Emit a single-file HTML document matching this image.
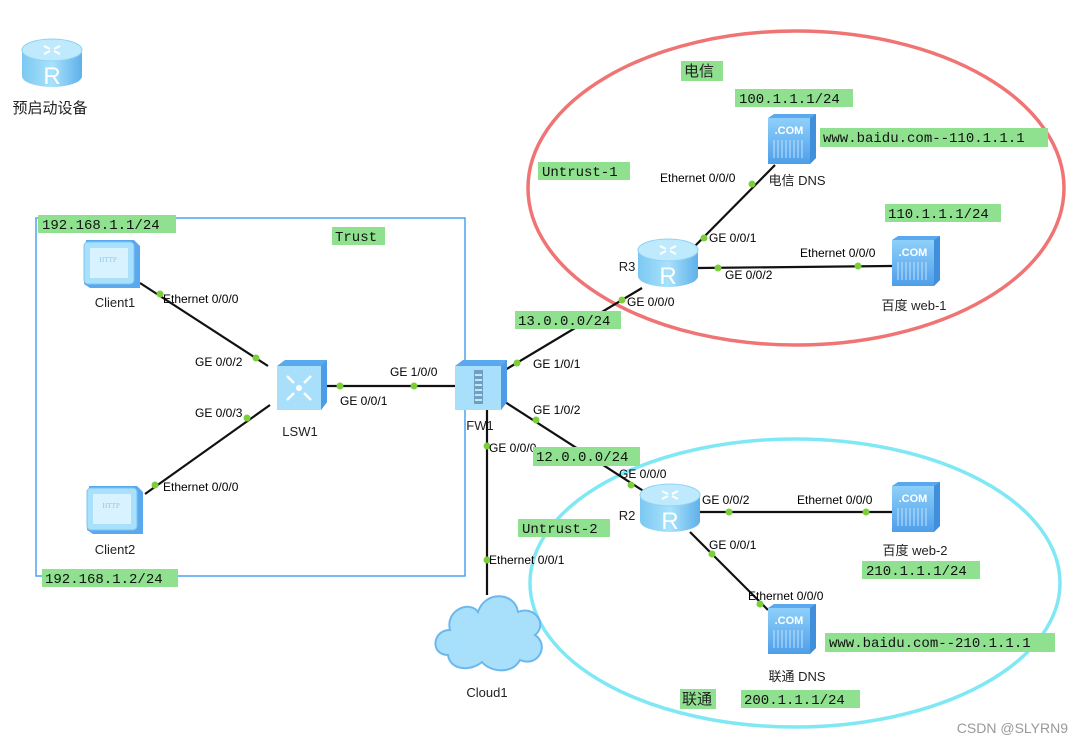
<!DOCTYPE html>
<html><head><meta charset="utf-8"><style>
html,body{margin:0;padding:0;background:#fff;}
svg{display:block;}
.p{font-family:"Liberation Sans","Noto Sans CJK SC",sans-serif;font-size:12px;fill:#000;}
.n{font-family:"Liberation Sans","Noto Sans CJK SC",sans-serif;font-size:13px;fill:#222;}
.m{font-family:"Liberation Mono","Noto Sans CJK SC",monospace;font-size:14px;fill:#111;}
.g{fill:#8fe08f;}
.d{fill:#7ccf3a;}
</style></head><body>
<svg width="1073" height="744" viewBox="0 0 1073 744" xmlns="http://www.w3.org/2000/svg">
<defs>
<linearGradient id="rg" x1="0" y1="0" x2="1" y2="0">
<stop offset="0" stop-color="#7cc8f2"/><stop offset="0.5" stop-color="#a8e2fb"/><stop offset="1" stop-color="#5fb0ea"/></linearGradient>
<linearGradient id="sg" x1="0" y1="0" x2="0" y2="1">
<stop offset="0" stop-color="#8fd0fa"/><stop offset="1" stop-color="#4e9ee8"/></linearGradient>
<g id="router">
<path d="M-30,-12 L-30,14 A30,11 0 0 0 30,14 L30,-12 Z" fill="url(#rg)"/>
<ellipse cx="0" cy="-12" rx="30" ry="11" fill="#bfeafd" stroke="#8fd2f5"/>
<path d="M-8,-16 l6,3 M8,-16 l-6,3 M-8,-8 l6,-3 M8,-8 l-6,-3" stroke="#fff" stroke-width="2"/>
<text x="0" y="22" text-anchor="middle" font-family="Liberation Sans" font-size="24" fill="#fff">R</text>
</g>
<g id="server">
<path d="M0,4 L6,0 L48,0 L48,44 L42,50 L0,50 Z" fill="#5aa8ee"/>
<rect x="0" y="4" width="42" height="46" fill="url(#sg)"/>
<path d="M42,4 L48,0 L48,44 L42,50 Z" fill="#3f8fdc"/>
<text x="21" y="20" text-anchor="middle" font-family="Liberation Sans" font-weight="bold" font-size="11" fill="#fff">.COM</text>
<path d="M6,26 v18 M10,26 v18 M14,26 v18 M18,26 v18 M22,26 v18 M26,26 v18 M30,26 v18 M34,26 v18" stroke="#bfe2ff" stroke-width="1"/>
</g>
<g id="client">
<path d="M2,0 L50,0 L56,6 L56,48 L6,48 L0,44 Z" fill="#5aa8ee"/>
<rect x="0" y="2" width="50" height="42" rx="4" fill="#a9e0fb" stroke="#7cc4f2"/>
<rect x="6" y="8" width="38" height="30" fill="#d8f3ff"/>
<text x="24" y="22" text-anchor="middle" font-family="Liberation Serif" font-size="7" fill="#8cc8ef">HTTP</text>
</g>
</defs>

<rect x="36" y="218" width="429" height="358" fill="none" stroke="#4aa3f0" stroke-width="1.5"/>
<ellipse cx="796" cy="188" rx="268" ry="157" fill="none" stroke="#f07474" stroke-width="3.5"/>
<ellipse cx="795" cy="583" rx="265" ry="144" fill="none" stroke="#7fe8f4" stroke-width="3.5"/>

<g stroke="#111" stroke-width="2.2">
<line x1="140" y1="283" x2="268" y2="366"/>
<line x1="145" y1="494" x2="270" y2="405"/>
<line x1="320" y1="386" x2="455" y2="386"/>
<line x1="505" y1="370" x2="642" y2="288"/>
<line x1="505" y1="402" x2="645" y2="492"/>
<line x1="487" y1="405" x2="487" y2="595"/>
<line x1="693" y1="248" x2="775" y2="165"/>
<line x1="698" y1="268" x2="892" y2="266"/>
<line x1="700" y1="512" x2="892" y2="512"/>
<line x1="690" y1="532" x2="768" y2="610"/>
</g>
<g class="d">
<circle cx="160" cy="294" r="3.5"/><circle cx="256" cy="358" r="3.5"/>
<circle cx="155" cy="485" r="3.5"/><circle cx="247" cy="418" r="3.5"/>
<circle cx="340" cy="386" r="3.5"/><circle cx="414" cy="386" r="3.5"/>
<circle cx="517" cy="363" r="3.5"/><circle cx="622" cy="300" r="3.5"/>
<circle cx="536" cy="420" r="3.5"/><circle cx="631" cy="485" r="3.5"/>
<circle cx="487" cy="446" r="3.5"/><circle cx="487" cy="560" r="3.5"/>
<circle cx="704" cy="238" r="3.5"/><circle cx="752" cy="184" r="3.5"/>
<circle cx="718" cy="268" r="3.5"/><circle cx="858" cy="266" r="3.5"/>
<circle cx="729" cy="512" r="3.5"/><circle cx="866" cy="512" r="3.5"/>
<circle cx="712" cy="554" r="3.5"/><circle cx="760" cy="604" r="3.5"/>
</g>

<use href="#router" x="52" y="62"/>
<text x="50" y="113" text-anchor="middle" class="n" style="font-size:15px">预启动设备</text>
<use href="#client" x="84" y="240"/>
<text x="115" y="307" text-anchor="middle" class="n">Client1</text>
<use href="#client" x="87" y="486"/>
<text x="115" y="554" text-anchor="middle" class="n">Client2</text>
<g transform="translate(277,360)">
<path d="M0,6 L8,0 L50,0 L50,42 L44,50 L0,50 Z" fill="#5aa8ee"/>
<rect x="0" y="6" width="44" height="44" fill="#a8e0fb"/>
<path d="M44,6 L50,0 L50,42 L44,50 Z" fill="#4e9be6"/>
<circle cx="22" cy="28" r="3" fill="#fff"/>
<path d="M10,16 l7,7 M34,16 l-7,7 M10,40 l7,-7 M34,40 l-7,-7" stroke="#fff" stroke-width="2.5"/>
</g>
<text x="300" y="436" text-anchor="middle" class="n">LSW1</text>
<g transform="translate(455,360)">
<path d="M0,6 L8,0 L52,0 L52,42 L46,50 L0,50 Z" fill="#5aa8ee"/>
<rect x="0" y="6" width="46" height="44" fill="#a8e0fb"/>
<path d="M46,6 L52,0 L52,42 L46,50 Z" fill="#4e9be6"/>
<rect x="19" y="10" width="9" height="34" fill="#6f9fc4"/>
<path d="M20,15 h7 M20,20 h7 M20,25 h7 M20,30 h7 M20,35 h7 M20,40 h7" stroke="#dff" stroke-width="1.5"/>
</g>
<text x="480" y="430" text-anchor="middle" class="n">FW1</text>
<use href="#router" x="668" y="262"/>
<text x="627" y="271" text-anchor="middle" class="n">R3</text>
<use href="#router" x="670" y="507"/>
<text x="627" y="520" text-anchor="middle" class="n">R2</text>
<use href="#server" x="768" y="114"/>
<text x="797" y="185" text-anchor="middle" class="n">电信 DNS</text>
<use href="#server" x="892" y="236"/>
<text x="914" y="310" text-anchor="middle" class="n">百度 web-1</text>
<use href="#server" x="892" y="482"/>
<text x="915" y="555" text-anchor="middle" class="n">百度 web-2</text>
<use href="#server" x="768" y="604"/>
<text x="797" y="681" text-anchor="middle" class="n">联通 DNS</text>
<g fill="#a8e0fb" stroke="#6bb8ee" stroke-width="2">
<path d="M448,655 C430,655 432,630 450,630 C445,610 470,600 478,612 C485,590 515,592 518,612 C535,605 548,625 535,635 C550,645 538,668 520,660 C512,675 490,672 482,662 C470,672 450,670 448,655 Z"/>
</g>
<text x="487" y="697" text-anchor="middle" class="n">Cloud1</text>

<g class="p">
<text x="163" y="303">Ethernet 0/0/0</text>
<text x="195" y="366">GE 0/0/2</text>
<text x="195" y="417">GE 0/0/3</text>
<text x="163" y="491">Ethernet 0/0/0</text>
<text x="340" y="405">GE 0/0/1</text>
<text x="390" y="376">GE 1/0/0</text>
<text x="533" y="368">GE 1/0/1</text>
<text x="533" y="414">GE 1/0/2</text>
<text x="489" y="452">GE 0/0/0</text>
<text x="489" y="564">Ethernet 0/0/1</text>
<text x="627" y="306">GE 0/0/0</text>
<text x="709" y="242">GE 0/0/1</text>
<text x="725" y="279">GE 0/0/2</text>
<text x="800" y="257">Ethernet 0/0/0</text>
<text x="660" y="182">Ethernet 0/0/0</text>
<text x="619" y="478">GE 0/0/0</text>
<text x="702" y="504">GE 0/0/2</text>
<text x="797" y="504">Ethernet 0/0/0</text>
<text x="709" y="549">GE 0/0/1</text>
<text x="748" y="600">Ethernet 0/0/0</text>
</g>

<g>
<rect class="g" x="38" y="215" width="138" height="18"/><text class="m" x="42" y="229">192.168.1.1/24</text>
<rect class="g" x="332" y="227" width="53" height="18"/><text class="m" x="335" y="241">Trust</text>
<rect class="g" x="42" y="569" width="136" height="18"/><text class="m" x="45" y="583">192.168.1.2/24</text>
<rect class="g" x="515" y="311" width="106" height="18"/><text class="m" x="518" y="325">13.0.0.0/24</text>
<rect class="g" x="533" y="447" width="107" height="19"/><text class="m" x="536" y="461">12.0.0.0/24</text>
<rect class="g" x="681" y="61" width="42" height="20"/><text class="n" x="684" y="76" style="font-size:15px">电信</text>
<rect class="g" x="735" y="89" width="118" height="18"/><text class="m" x="739" y="103">100.1.1.1/24</text>
<rect class="g" x="820" y="128" width="228" height="19"/><text class="m" x="823" y="142">www.baidu.com--110.1.1.1</text>
<rect class="g" x="538" y="162" width="92" height="18"/><text class="m" x="542" y="176">Untrust-1</text>
<rect class="g" x="885" y="204" width="116" height="18"/><text class="m" x="888" y="218">110.1.1.1/24</text>
<rect class="g" x="518" y="519" width="92" height="18"/><text class="m" x="522" y="533">Untrust-2</text>
<rect class="g" x="862" y="561" width="118" height="18"/><text class="m" x="866" y="575">210.1.1.1/24</text>
<rect class="g" x="825" y="633" width="230" height="19"/><text class="m" x="829" y="647">www.baidu.com--210.1.1.1</text>
<rect class="g" x="680" y="689" width="36" height="20"/><text class="n" x="682" y="704" style="font-size:15px">联通</text>
<rect class="g" x="741" y="690" width="119" height="18"/><text class="m" x="744" y="704">200.1.1.1/24</text>
</g>
<text x="1068" y="733" text-anchor="end" font-family="Liberation Sans" font-size="14" fill="#999">CSDN @SLYRN9</text>
</svg>
</body></html>
